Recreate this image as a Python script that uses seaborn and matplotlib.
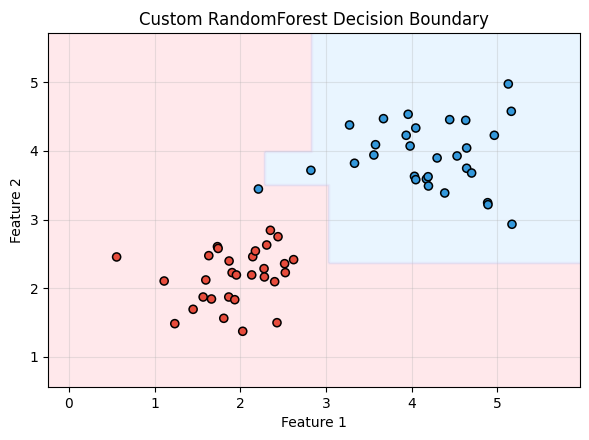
import numpy as np
import pandas as pd
import matplotlib
matplotlib.use("Agg")
import matplotlib.pyplot as plt
import seaborn as sns

# class 0 (red)
red_x = [0.556, 1.111, 1.235, 1.449, 1.566, 1.663, 1.597, 1.632, 1.733, 1.741,
         1.807, 1.869, 1.865, 1.904, 1.954, 1.935, 2.028, 2.133, 2.145, 2.176,
         2.277, 2.281, 2.308, 2.351, 2.401, 2.440, 2.428, 2.517, 2.525, 2.622]
red_y = [2.456, 2.106, 1.485, 1.694, 1.873, 1.844, 2.121, 2.475, 2.606, 2.580,
         1.563, 2.397, 1.873, 2.228, 2.194, 1.834, 1.374, 2.194, 2.460, 2.543,
         2.286, 2.165, 2.630, 2.844, 2.096, 2.751, 1.499, 2.358, 2.228, 2.417]

# class 1 (blue)
blue_x = [2.211, 2.824, 3.275, 3.333, 3.559, 3.578, 3.671, 3.936, 3.959, 3.982,
          4.048, 4.033, 4.048, 4.172, 4.192, 4.196, 4.297, 4.386, 4.444, 4.530,
          4.631, 4.642, 4.642, 4.700, 4.887, 4.891, 4.965, 5.128, 5.163, 5.171]
blue_y = [3.445, 3.717, 4.377, 3.820, 3.940, 4.090, 4.469, 4.227, 4.533, 4.071,
          4.333, 3.630, 3.581, 3.591, 3.624, 3.489, 3.897, 3.387, 4.455, 3.926,
          4.445, 4.042, 3.747, 3.678, 3.246, 3.217, 4.227, 4.974, 4.576, 2.932]

# decision regions: blue where x > threshold inside each y band (top band first)
band_y_low = [3.99, 3.50, 2.364]
band_x_thr = [2.83, 2.285, 3.03]

x_min, x_max = -0.245, 5.965
y_min, y_max = 0.563, 5.716

df = pd.DataFrame({
    "Feature 1": red_x + blue_x,
    "Feature 2": red_y + blue_y,
    "label": [0] * len(red_x) + [1] * len(blue_x),
})

xx, yy = np.meshgrid(np.linspace(x_min, x_max, 500), np.linspace(y_min, y_max, 500))
zz = np.zeros_like(xx)
y_top = np.inf
for lo, thr in zip(band_y_low, band_x_thr):
    zz[(yy > lo) & (yy <= y_top) & (xx > thr)] = 1
    y_top = lo

fig, ax = plt.subplots(figsize=(5.89, 4.4), dpi=100)
fig.subplots_adjust(left=48 / 589, right=580 / 589, top=1 - 33 / 440, bottom=1 - 387 / 440)
ax.contourf(xx, yy, zz, levels=[-0.5, 0.5, 1.5], colors=["#ff9aa8", "#9fd3ff"], alpha=0.22)
ax.contour(xx, yy, zz, levels=[0.5], colors=["#d8c8ec"], linewidths=2, alpha=0.25)

sns.scatterplot(data=df, x="Feature 1", y="Feature 2", hue="label",
                palette={0: "#e74c3c", 1: "#3498db"}, edgecolor="black",
                linewidth=1.1, s=34, legend=False, ax=ax, zorder=3)

ax.set_xlim(x_min, x_max)
ax.set_ylim(y_min, y_max)
ax.set_title("Custom RandomForest Decision Boundary")
ax.set_xlabel("Feature 1")
ax.set_ylabel("Feature 2")
ax.grid(True, alpha=0.3)
fig.savefig("out.png")
